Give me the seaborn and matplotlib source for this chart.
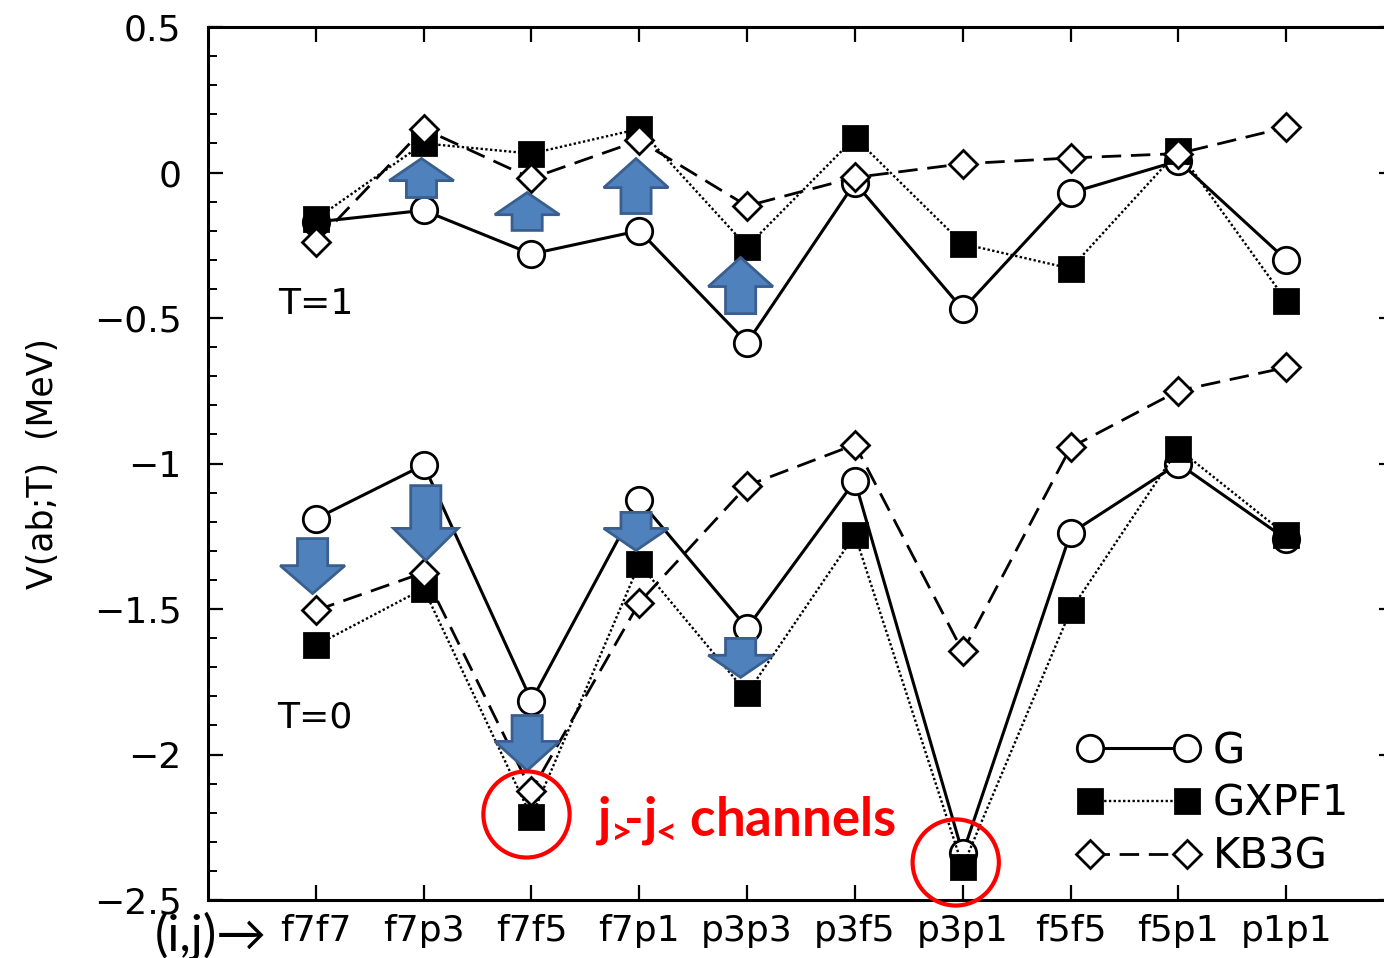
import numpy as np
import matplotlib
matplotlib.use("Agg")
import matplotlib.pyplot as plt
import seaborn as sns
from matplotlib.patches import Polygon, Ellipse
from matplotlib.ticker import MultipleLocator, FixedLocator, FixedFormatter

# ---------------- data ----------------
pairs = ["f7f7", "f7p3", "f7f5", "f7p1", "p3p3", "p3f5", "p3p1", "f5f5", "f5p1", "p1p1"]

# T = 1 channel
G_T1 = [-0.17, -0.13, -0.28, -0.20, -0.585, -0.035, -0.47, -0.07, 0.04, -0.30]
GXPF1_T1 = [-0.16, 0.10, 0.065, 0.15, -0.255, 0.12, -0.245, -0.33, 0.075, -0.44]
KB3G_T1 = [-0.24, 0.15, -0.02, 0.11, -0.115, -0.017, 0.03, 0.05, 0.065, 0.155]

# T = 0 channel
G_T0 = [-1.19, -1.005, -1.815, -1.125, -1.565, -1.06, -2.34, -1.24, -1.0, -1.26]
GXPF1_T0 = [-1.625, -1.43, -2.215, -1.345, -1.79, -1.245, -2.385, -1.505, -0.95, -1.245]
KB3G_T0 = [-1.505, -1.375, -2.125, -1.478, -1.076, -0.935, -1.646, -0.945, -0.75, -0.67]

series_names = ["G", "GXPF1", "KB3G"]

yticks = [-2.5, -2.0, -1.5, -1.0, -0.5, 0.0, 0.5]
ytick_labels = ["\u22122.5", "\u22122", "\u22121.5", "\u22121", "\u22120.5", "0", "0.5"]

# ---------------- style ----------------
sns.set_style("ticks")
plt.rcParams["font.family"] = ["DejaVu Sans"]
plt.rcParams["mathtext.default"] = "regular"
for key in ["text.color", "axes.labelcolor", "xtick.color", "ytick.color", "axes.edgecolor"]:
    plt.rcParams[key] = "black"

fig = plt.figure(figsize=(13.84, 9.58), dpi=100)
ax = fig.add_axes([208 / 1384, 1 - 900 / 958, 1186 / 1384, 873 / 958])

pos = np.arange(1, len(pairs) + 1)

styles = {
    "G": dict(marker="o", markersize=19, markerfacecolor="white", linestyle="-", linewidth=2.2),
    "GXPF1": dict(marker="s", markersize=17, markerfacecolor="black", linestyle=(0, (1, 1)), linewidth=1.7),
    "KB3G": dict(marker="D", markersize=14, markerfacecolor="white", linestyle=(0, (7, 3.5)), linewidth=2.0),
}
data = {
    "G": (G_T1, G_T0),
    "GXPF1": (GXPF1_T1, GXPF1_T0),
    "KB3G": (KB3G_T1, KB3G_T0),
}

handles = []
for name in series_names:
    for k, vals in enumerate(data[name]):
        sns.lineplot(x=pos, y=vals, ax=ax, color="black", markeredgecolor="black",
                     markeredgewidth=2, errorbar=None, sort=False, legend=False,
                     **styles[name])
        if k == 0:
            handles.append(ax.lines[-1])

ax.set_xlim(0, 11)
ax.set_ylim(-2.5, 0.5)
ax.set_xticks(pos)
ax.set_xticklabels(pairs)
ax.yaxis.set_major_locator(FixedLocator(yticks))
ax.yaxis.set_major_formatter(FixedFormatter(ytick_labels))
ax.yaxis.set_minor_locator(MultipleLocator(0.1))

ax.tick_params(axis="both", which="major", direction="in", length=11, width=1.6,
               top=True, right=True, color="black", labelcolor="black")
ax.tick_params(axis="y", which="minor", direction="in", length=6.5, width=1.4,
               right=True, left=True, color="black")
ax.tick_params(axis="y", labelsize=26, pad=19)
ax.tick_params(axis="x", labelsize=26, pad=10)
for sp in ax.spines.values():
    sp.set_linewidth(2.2)
    sp.set_color("black")

ax.set_ylabel("V(ab;T)  (MeV)", fontsize=25, color="black")
ax.yaxis.set_label_coords(-0.125, 0.5)

ax.text(0.648, -0.485, "T=1", fontsize=26, va="baseline", ha="left", color="black")
ax.text(0.64, -1.907, "T=0", fontsize=26, va="baseline", ha="left", color="black")

# ---------------- annotations: block arrows ----------------
def block_arrow(x, y_tail, y_tip, head_len, head_w=0.60, shaft_w=0.28):
    d = 1 if y_tip > y_tail else -1
    y_neck = y_tip - d * head_len
    pts = [
        (x - shaft_w / 2, y_tail), (x + shaft_w / 2, y_tail),
        (x + shaft_w / 2, y_neck), (x + head_w / 2, y_neck),
        (x, y_tip), (x - head_w / 2, y_neck), (x - shaft_w / 2, y_neck),
    ]
    ax.add_patch(Polygon(pts, closed=True, facecolor="#4F81BD", edgecolor="#3A5F8E",
                         linewidth=2, zorder=10))

arrows = [
    (1.98, -0.086, 0.048, 0.076), (2.96, -0.199, -0.069, 0.076),
    (3.97, -0.141, 0.048, 0.10), (4.94, -0.485, -0.292, 0.10),
    (0.97, -1.258, -1.447, 0.096), (2.02, -1.076, -1.333, 0.11),
    (2.96, -1.866, -2.055, 0.10), (3.97, -1.168, -1.299, 0.076),
    (4.94, -1.601, -1.735, 0.076),
]
for a in arrows:
    block_arrow(*a)

# red circles
for cx, cy in [(2.954, -2.206), (6.935, -2.371)]:
    ax.add_patch(Ellipse((cx, cy), 0.80, 0.296, fill=False, edgecolor="#FF0000",
                         linewidth=3.0, zorder=11, clip_on=False))

ax.text(3.60, -2.278, r"j$\!_{>}\!\!$-j$\!_{<}\!$ channels", color="#FF0000", fontsize=38,
        family=["Lato", "DejaVu Sans"], weight="bold", va="baseline", ha="left", zorder=12)

fig.text(155 / 1384, 1 - 950 / 958, "(i,j)\u2192", fontsize=36,
         family=["Lato", "DejaVu Sans"], va="baseline", ha="left", color="black")

# ---------------- legend ----------------
ax.legend(handles, series_names, loc="upper left",
          bbox_to_anchor=(1077 / 1384, 1 - 730 / 958), bbox_transform=fig.transFigure,
          numpoints=2, handlelength=2.95, handletextpad=0.3, labelspacing=0.26,
          frameon=False, borderpad=0, borderaxespad=0, fontsize=30)

fig.savefig("out.png", dpi=100)
